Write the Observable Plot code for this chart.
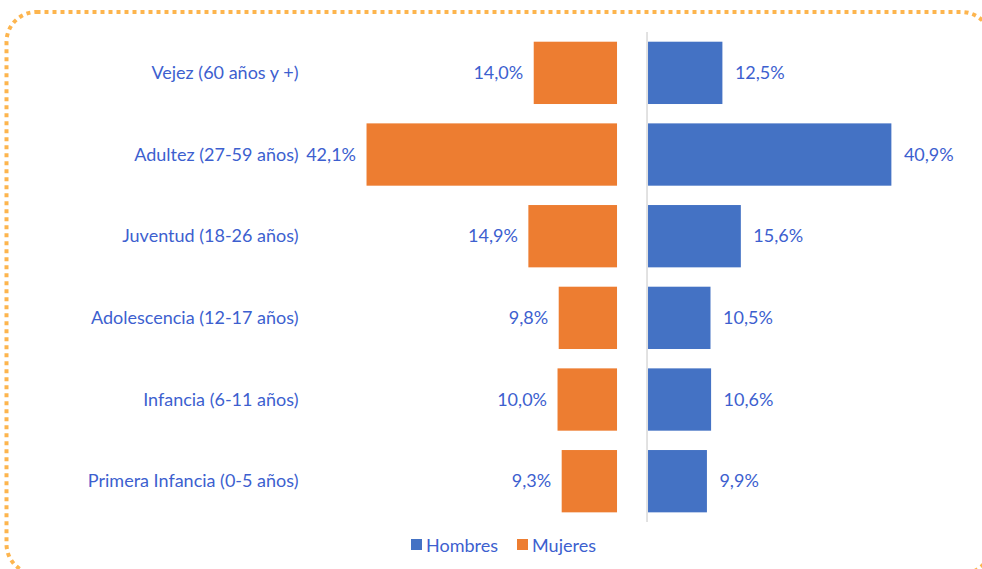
<!DOCTYPE html>
<html>
<head>
<meta charset="utf-8">
<script src="https://cdn.jsdelivr.net/npm/d3@7"></script>
<script src="https://cdn.jsdelivr.net/npm/@observablehq/plot@0.6"></script>
<style>
  html, body { margin: 0; padding: 0; background: #fff; }
  #wrap { position: relative; width: 982px; height: 569px; overflow: hidden; background: #fff; }
  #frame { position: absolute; left: 0; top: 0; pointer-events: none; }
  #chart { position: absolute; left: 0; top: 0; }
  .lg-swatch > svg { margin-right: 4px !important; }
  .lg-swatch { margin-right: 19px !important; }
</style>
</head>
<body>
<div id="wrap">
  <div id="chart"></div>
  <svg id="frame" width="982" height="569">
    <rect x="6.5" y="12" width="985" height="562" rx="30" ry="30" fill="none" stroke="#fdb54e" stroke-width="4" stroke-dasharray="4 4"></rect>
  </svg>
</div>
<script>
const categories = [
  "Vejez (60 años y +)",
  "Adultez (27-59 años)",
  "Juventud (18-26 años)",
  "Adolescencia (12-17 años)",
  "Infancia (6-11 años)",
  "Primera Infancia (0-5 años)"
];
const mujeres = [14.0, 42.1, 14.9, 9.8, 10.0, 9.3];
const hombres = [12.5, 40.9, 15.6, 10.5, 10.6, 9.9];
const seriesNames = ["Hombres", "Mujeres"];

const BLUE = "#4472c4";
const ORANGE = "#ed7d31";
const TEXT = "#3d5fcf";
const FONT = "Lato, 'Open Sans', sans-serif";

const rows = categories.map((c, i) => ({cat: c, m: mujeres[i], h: hombres[i]}));
const fmt = v => v.toFixed(1).replace(".", ",") + "%";
const gap = 5.21; // separation between the two halves, in value units

const plot = Plot.plot({
  width: 982,
  height: 530,
  marginLeft: 308,
  marginTop: 32,
  marginBottom: 8,
  marginRight: 0,
  style: {fontFamily: FONT, fontSize: "18px", color: TEXT, background: "transparent", overflow: "visible"},
  x: {domain: [-108.91, 56.13], range: [0, 982], axis: null},
  y: {domain: categories, range: [22.35, 531.7], padding: 0.237, round: false, axis: null, label: null},
  marks: [
    Plot.barX(rows, {x1: d => -gap - d.m, x2: () => -gap, y: "cat", fill: ORANGE}),
    Plot.barX(rows, {x1: () => 0, x2: d => d.h, y: "cat", fill: BLUE}),
    Plot.ruleX([0], {stroke: "#d9d9d9", strokeWidth: 1.5, dx: -1.5}),
    Plot.text(rows, {x: d => -gap - d.m, y: "cat", text: d => fmt(d.m), textAnchor: "end", dx: -11, fill: TEXT, fontSize: 18}),
    Plot.text(rows, {x: d => d.h, y: "cat", text: d => fmt(d.h), textAnchor: "start", dx: 12, fill: TEXT, fontSize: 18}),
    Plot.axisY({tickSize: 0, tickPadding: 10, fontSize: 18, fill: TEXT, label: null})
  ]
});

const legend = Plot.legend({
  color: {domain: seriesNames, range: [BLUE, ORANGE]},
  swatchSize: 11,
  className: "lg",
  style: {fontFamily: FONT, fontSize: "18px", color: TEXT}
});
legend.style.justifyContent = "flex-start";
legend.style.marginLeft = "0px";
legend.style.marginTop = "-2px";
legend.style.paddingLeft = "411px";
legend.style.minHeight = "33px";

const chart = document.getElementById("chart");
chart.appendChild(plot);
chart.appendChild(legend);
</script>
</body>
</html>
